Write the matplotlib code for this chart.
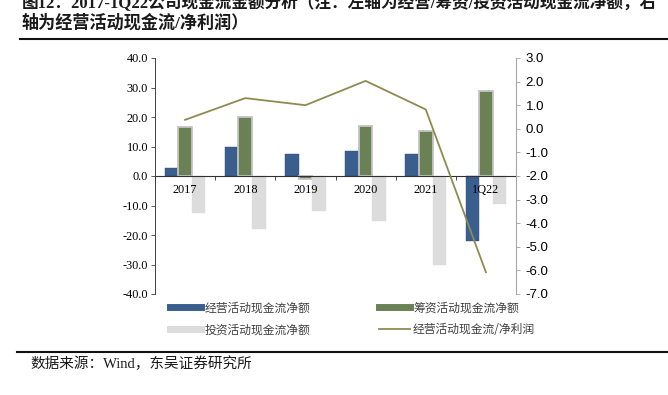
import matplotlib
matplotlib.use("Agg")
import matplotlib.pyplot as plt
import numpy as np
from matplotlib.lines import Line2D

categories = ["2017", "2018", "2019", "2020", "2021", "1Q22"]
operating = [2.6, 9.9, 7.6, 8.6, 7.6, -21.9]
financing = [16.6, 20.1, -1.1, 16.9, 15.4, 28.8]
investing = [-12.4, -17.9, -11.9, -15.1, -30.1, -9.4]
ocf_to_ni = [0.38, 1.30, 1.00, 2.03, 0.82, -6.08]

left_ticks = [40, 30, 20, 10, 0, -10, -20, -30, -40]
right_ticks = [3, 2, 1, 0, -1, -2, -3, -4, -5, -6, -7]

c_blue = "#3A5F8F"
c_green = "#6A8156"
c_gray = "#DCDCDC"
c_line = "#8E8B50"

cjk = ["Noto Sans CJK SC", "DejaVu Sans"]
serif = ["Liberation Serif", "DejaVu Serif"]
mixed = ["Liberation Serif", "Noto Sans CJK SC", "DejaVu Sans"]

W, H = 668, 395
fig = plt.figure(figsize=(W / 100, H / 100), dpi=100)

x0, x1, y0, y1 = 155, 516, 58, 294
ax = fig.add_axes([x0 / W, 1 - y1 / H, (x1 - x0) / W, (y1 - y0) / H])
ax2 = ax.twinx()
ax.set_axisbelow(False)

x = np.arange(len(categories))
bw = 0.225
ax.bar(x - bw, operating, bw, color=c_blue, edgecolor="#2F4F7A", linewidth=0.3, zorder=1)
ax.bar(x, financing, bw, color=c_green, edgecolor="#C4C4C4", linewidth=1.3, zorder=1)
ax.bar(x + bw, investing, bw, color=c_gray, edgecolor=c_gray, linewidth=0.3, zorder=1)

ax.set_xlim(-0.5, len(categories) - 0.5)
ax.set_ylim(-40, 40)
ax.set_yticks(left_ticks)
ax.set_yticklabels([f"{v:.1f}" for v in left_ticks], fontfamily=serif, fontsize=8.8)
ax.tick_params(axis="y", direction="out", length=3, width=0.6, color="#404040", pad=2)

ax.spines["top"].set_visible(False)
ax.spines["right"].set_visible(False)
ax.spines["left"].set_color("#404040")
ax.spines["left"].set_linewidth(0.7)
ax.spines["bottom"].set_position(("data", 0))
ax.spines["bottom"].set_color("#303030")
ax.spines["bottom"].set_linewidth(0.8)

ax.set_xticks(np.arange(-0.5, len(categories) + 0.5, 1.0))
ax.set_xticklabels([])
ax.tick_params(axis="x", which="major", direction="out", length=3, width=0.6, color="#303030")
ax.set_xticks(x, minor=True)
ax.set_xticklabels(categories, minor=True, fontfamily=serif, fontsize=8.8)
ax.tick_params(axis="x", which="minor", length=0, pad=6)

ax2.plot(x, ocf_to_ni, color=c_line, linewidth=1.3, zorder=4)
ax2.set_ylim(-7, 3)
ax2.set_yticks(right_ticks)
ax2.set_yticklabels([f"{v:.1f}" for v in right_ticks], fontfamily=["Liberation Sans", "DejaVu Sans"], fontsize=9.5)
ax2.tick_params(axis="y", direction="out", length=3, width=0.6, color="#A0A0A0", pad=4)
for s in ["top", "left", "bottom"]:
    ax2.spines[s].set_visible(False)
ax2.spines["right"].set_color("#A6A6A6")
ax2.spines["right"].set_linewidth(0.8)

handles = [
    Line2D([0], [0], color=c_blue, linewidth=5),
    Line2D([0], [0], color=c_green, linewidth=5),
    Line2D([0], [0], color=c_gray, linewidth=5),
    Line2D([0], [0], color=c_line, linewidth=1.3),
]
labels = ["经营活动现金流净额", "筹资活动现金流净额", "投资活动现金流净额", "经营活动现金流/净利润"]
order = [0, 2, 1, 3]
leg = fig.legend([handles[i] for i in order], [labels[i] for i in order], ncol=2,
                 loc="upper left", bbox_to_anchor=(168 / W, 1 - 299 / H), frameon=False,
                 prop={"family": cjk, "size": 8.5}, handlelength=2.6, handletextpad=0.3,
                 columnspacing=5.8, labelspacing=0.75, borderaxespad=0, borderpad=0.2)
for t in leg.get_texts():
    t.set_color("#404040")

fig.text(22 / W, 1 - 3 / H, "图12：2017-1Q22公司现金流金额分析（注：左轴为经营/筹资/投资活动现金流净额，右",
         fontfamily=mixed, fontsize=12, fontweight="bold", va="center", ha="left", color="#1a1a1a")
fig.text(22 / W, 1 - 23 / H, "轴为经营活动现金流/净利润）",
         fontfamily=mixed, fontsize=12.3, fontweight="bold", va="center", ha="left", color="#1a1a1a")

fig.add_artist(Line2D([20 / W, 1], [1 - 39 / H, 1 - 39 / H], color="#111111", linewidth=1.5))
fig.add_artist(Line2D([17 / W, 1], [1 - 352 / H, 1 - 352 / H], color="#111111", linewidth=1.5))

fig.text(30 / W, 1 - 364 / H, "数据来源：Wind，东吴证券研究所", fontfamily=mixed, fontsize=10.5,
         va="center", ha="left", color="#1a1a1a")

fig.savefig("out.png", dpi=100)
